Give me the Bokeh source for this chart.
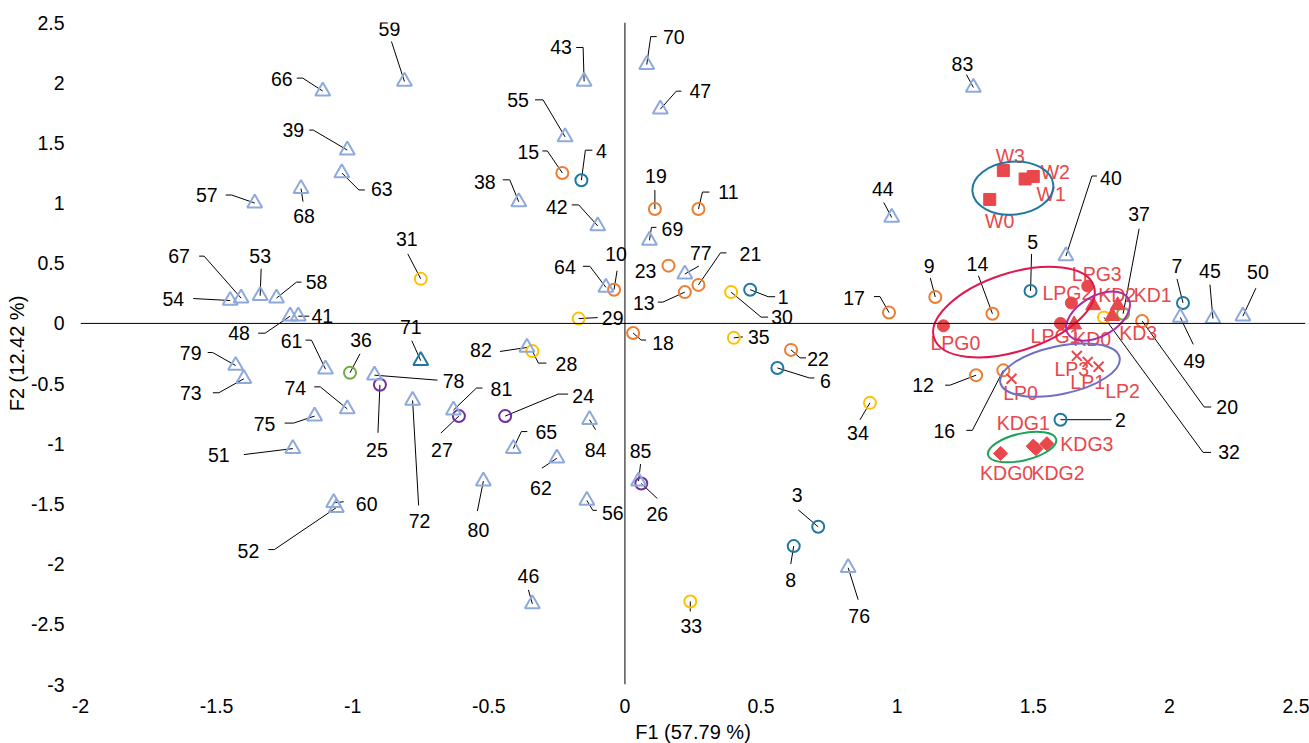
from bokeh.plotting import figure
from bokeh.models import Range1d, Span, FixedTicker, AllLabels, ColumnDataSource
from bokeh.embed import file_html
from bokeh.resources import INLINE
from bokeh.core.properties import value

# ---------------------------------------------------------------- data
# Compound scores on F1 / F2
compound_ids = [str(i) for i in range(1, 86)]
f1 = [0.46, 1.60, 0.71, -0.16, 1.49, 0.56, 2.05, 0.62,                      # 1-8
      1.14, -0.04, 0.27, 1.29, 0.22, 1.35, -0.23, 1.39, 0.97, 0.03, 0.11,   # 9-19
      1.90, 0.27, 0.61, 0.16,                                               # 20-23
      -0.44, -0.90, 0.06, -0.61,                                            # 24-27
      -0.34, -0.17, 0.39, -0.75, 1.76, 0.24, 0.90, 0.40,                    # 28-35
      -1.01, 1.83,                                                          # 36-37
      -0.39, -1.02, 1.62, -1.20, -0.10, -0.15, 0.98, 2.16, -0.34, 0.13,     # 38-47
      -1.23, 2.04, 2.27, -1.22, -1.06, -1.34, -1.45, -0.22, -0.14, -1.36,   # 48-57
      -1.28, -0.81, -1.07, -1.10, -0.25, -1.04, -0.07, -0.41, -1.11, -1.41, # 58-67
      -1.19, 0.09, 0.08, -0.75, -0.78, -1.40, -1.02, -1.14, 0.82, 0.22,     # 68-77
      -0.92, -1.43, -0.52, -0.63, -0.36, 1.28, -0.13, 0.05]                 # 78-85
f2 = [0.28, -0.80, -1.69, 1.19, 0.27, -0.37, 0.17, -1.85,
      0.22, 0.28, 0.95, -0.43, 0.26, 0.08, 1.25, -0.39, 0.09, -0.08, 0.95,
      0.02, 0.32, -0.22, 0.48,
      -0.77, -0.51, -1.33, -0.77,
      -0.23, 0.04, 0.26, 0.37, 0.05, -2.31, -0.66, -0.12,
      -0.41, 0.08,
      1.01, 1.44, 0.56, 0.06, 0.81, 2.01, 0.88, 0.04, -2.33, 1.78,
      0.06, 0.05, 0.06, -1.04, -1.53, 0.23, 0.19, 1.55, -1.47, 1.00,
      0.21, 2.01, -1.49, -0.38, -1.12, 1.25, 0.30, -1.04, 1.93, 0.21,
      1.12, 0.69, 2.15, -0.31, -0.64, -0.46, -0.71, -0.77, -2.03, 0.41,
      -0.43, -0.35, -1.31, -0.72, -0.20, 1.96, -0.80, -1.31]
compound_class = (["c1"] * 8 + ["c2"] * 15 + ["c3"] * 4 + ["c4"] * 8 + ["c5"] * 2
                  + ["c6"] * 33 + ["c7"] + ["c6"] * 14)

# Sample scores on F1 / F2
sample_names = ["W0", "W1", "W2", "W3",
                "LPG0", "LPG1", "LPG2", "LPG3",
                "KD0", "KD1", "KD2", "KD3",
                "LP0", "LP1", "LP2", "LP3",
                "KDG0", "KDG1", "KDG2", "KDG3"]
sample_f1 = [1.34, 1.47, 1.50, 1.39,
             1.17, 1.60, 1.64, 1.70,
             1.65, 1.81, 1.72, 1.79,
             1.42, 1.70, 1.74, 1.66,
             1.38, 1.50, 1.51, 1.55]
sample_f2 = [1.03, 1.20, 1.22, 1.27,
             -0.02, 0.00, 0.17, 0.31,
             -0.01, 0.15, 0.15, 0.06,
             -0.46, -0.32, -0.36, -0.27,
             -1.08, -1.02, -1.04, -1.00]
sample_group = ["W"] * 4 + ["LPG"] * 4 + ["KD"] * 4 + ["LP"] * 4 + ["KDG"] * 4

# Group ellipses: centre (F1, F2), extent along F1 / F2, tilt in degrees
ellipse_groups = ["W", "LPG", "KD", "LP", "KDG"]
ellipse_cx = [1.425, 1.429, 1.738, 1.598, 1.459]
ellipse_cy = [1.124, 0.094, 0.061, -0.388, -1.027]
ellipse_w = [0.298, 0.617, 0.257, 0.448, 0.257]
ellipse_h = [0.440, 0.648, 0.332, 0.399, 0.224]
ellipse_angle = [5, 18, 30, 12, 13]

x_ticks = [-2, -1.5, -1, -0.5, 0, 0.5, 1, 1.5, 2, 2.5]
x_tick_labels = ["-2", "-1.5", "-1", "-0.5", "0", "0.5", "1", "1.5", "2", "2.5"]
y_ticks = [-3, -2.5, -2, -1.5, -1, -0.5, 0, 0.5, 1, 1.5, 2, 2.5]
y_tick_labels = ["-3", "-2.5", "-2", "-1.5", "-1", "-0.5", "0", "0.5", "1", "1.5", "2", "2.5"]

# ---------------------------------------------------------------- layout
FRAME_W, FRAME_H = 1225, 662
X0, X1, Y0, Y1 = -2, 2.5, -3, 2.5
PX = FRAME_W / (X1 - X0)
PY = FRAME_H / (Y1 - Y0)

# label placement in screen pixels relative to the marker (y downwards):
# (label dx, label dy, leader end dx, leader end dy, stub end dx or None)
label_layout = {
    "1": (33, 7, 18, 7, 25), "2": (60, 0, 51, 0, None), "3": (-21, -32, -20, -17, None),
    "4": (20, -29, 4, -30, 11), "5": (2, -49, 1, -37, None), "6": (48, 13, 32, 10, 37),
    "7": (-6, -37, -6, -24, None), "8": (-3, 34, -3, 18, None), "9": (-6, -31, -5, -19, None),
    "10": (2, -36, 3, -19, None), "11": (30, -17, 4, -17, 11), "12": (-53, 10, -26, 10, -31),
    "13": (-41, 11, -22, 10, -27), "14": (-15, -50, -14, -38, None), "15": (-34, -21, -15, -22, -20),
    "16": (-59, 61, -31, 60, -37), "17": (-35, -15, -9, -16, -15), "18": (30, 10, 8, 7, 13),
    "19": (1, -33, 0, -19, None), "20": (85, 86, 62, 86, 69), "21": (52, -31, 22, -32, 28),
    "22": (27, 9, 9, 8, 15), "23": (-23, 5, None, None, None), "24": (78, -20, 53, -22, 63),
    "25": (-3, 65, -2, 48, None), "26": (16, 31, 16, 15, None), "27": (-17, 34, -18, 17, None),
    "28": (34, 13, 6, 12, 14), "29": (34, -1, 19, -1, None), "30": (51, 25, 30, 25, 37),
    "31": (-14, -40, -13, -25, None), "32": (125, 135, 99, 135, 107), "33": (1, 25, 0, 10, None),
    "34": (-12, 30, -10, 17, None), "35": (25, -1, 9, -1, None), "36": (11, -33, 10, -19, None),
    "37": (16, -100, 16, -85, None), "38": (-34, -20, -9, -22, -16), "39": (-54, -20, -34, -20, -38),
    "40": (45, -78, 26, -80, 31), "41": (24, 0, 11, 0, None), "42": (-41, -19, -19, -21, -26),
    "43": (-23, -34, -1, -34, -8), "44": (-9, -28, -8, -15, None), "45": (-3, -48, -3, -34, None),
    "46": (-4, -28, -4, -14, None), "47": (40, -18, 16, -18, 21), "48": (-51, 17, -25, 17, -32),
    "49": (14, 44, 13, 27, None), "50": (15, -44, 13, -28, None), "51": (-74, 6, -49, 6, None),
    "52": (-88, 43, -62, 42, -68), "53": (0, -40, 1, -27, None), "54": (-57, -2, -37, -2, None),
    "55": (-47, -37, -22, -37, -30), "56": (26, 13, 6, 10, 10), "57": (-48, -8, -23, -8, -29),
    "58": (40, -16, 20, -16, 25), "59": (-15, -52, -13, -40, None), "60": (33, 1, 10, -1, None),
    "61": (-34, -28, -14, -29, -20), "62": (-16, 30, -15, 10, None), "63": (40, 16, 17, 17, 23),
    "64": (-41, -20, -16, -21, -23), "65": (33, -17, 8, -17, 14), "66": (-41, -12, -20, -13, -26),
    "67": (-62, -42, -37, -42, -42), "68": (3, 27, 2, 13, None), "69": (23, -11, 2, -13, 7),
    "70": (27, -28, 4, -28, 10), "71": (-10, -34, -9, -20, None), "72": (7, 121, 6, 105, None),
    "73": (-53, 14, -25, 14, -31), "74": (-52, -21, -27, -22, -33), "75": (-50, 8, -21, 7, -30),
    "76": (11, 48, 10, 32, None), "77": (16, -21, 14, -8, None), "78": (79, 6, 63, 5, None),
    "79": (-45, -13, -23, -13, -28), "80": (-5, 49, -6, 30, None), "81": (48, -21, 23, -22, 29),
    "82": (-46, 3, -27, 4, None), "83": (-11, -23, -7, -13, None), "84": (6, 30, 6, 10, None),
    "85": (2, -30, 2, -17, None),
}
sample_label_offset = {
    "W0": (10, 22), "W1": (26, 15), "W2": (22, -5), "W3": (7, -15),
    "LPG0": (12, 17), "LPG1": (-5, 13), "LPG2": (-4, -10), "LPG3": (9, -12),
    "KD0": (18, 14), "KD1": (35, -10), "KD2": (24, -10), "KD3": (26, 17),
    "LP0": (9, 14), "LP1": (0, 20), "LP2": (24, 24), "LP3": (-5, 13),
    "KDG0": (6, 20), "KDG1": (-10, -23), "KDG2": (22, 24), "KDG3": (40, 0),
}

class_style = {
    "c1": dict(marker="circle", color="#1F78A0", size=12),
    "c2": dict(marker="circle", color="#ED7D31", size=12),
    "c3": dict(marker="circle", color="#7030A0", size=12),
    "c4": dict(marker="circle", color="#FFC000", size=12),
    "c5": dict(marker="circle", color="#70AD47", size=12),
    "c6": dict(marker="triangle", color="#8EA9DB", size=15),
    "c7": dict(marker="triangle", color="#1F78A0", size=15),
}
RED = "#E8474B"
sample_style = {
    "W": dict(marker="square", size=12, angle=0),
    "LPG": dict(marker="circle", size=12, angle=0),
    "KD": dict(marker="triangle", size=15, angle=0),
    "LP": dict(marker="x", size=14, angle=0),
    "KDG": dict(marker="square", size=10, angle=0.785398),
}
ellipse_color = {"W": "#1F78A0", "LPG": "#E0164E", "KD": "#AE2CA0",
                 "LP": "#6F6FC4", "KDG": "#1DA355"}

FONT = "Liberation Sans"
FS = "19.5px"
FS_TITLE = "20px"


def shift(x, y, dx, dy):
    return x + dx / PX, y - dy / PY


p = figure(frame_width=FRAME_W, frame_height=FRAME_H,
           x_range=Range1d(X0, X1), y_range=Range1d(Y0, Y1),
           output_backend="svg", toolbar_location=None,
           min_border_left=80, min_border_right=4, min_border_top=22, min_border_bottom=66,
           background_fill_color="white", border_fill_color="white")
p.xgrid.visible = False
p.ygrid.visible = False
p.outline_line_color = None

p.xaxis.axis_label = "F1 (57.79 %)"
p.yaxis.axis_label = "F2 (12.42 %)"
p.xaxis.ticker = FixedTicker(ticks=x_ticks)
p.yaxis.ticker = FixedTicker(ticks=y_ticks)
p.xaxis.major_label_overrides = {float(t): s for t, s in zip(x_ticks, x_tick_labels)}
p.yaxis.major_label_overrides = {float(t): s for t, s in zip(y_ticks, y_tick_labels)}
for ax in (p.xaxis[0], p.yaxis[0]):
    ax.axis_line_color = None
    ax.major_tick_line_color = None
    ax.minor_tick_line_color = None
    ax.major_tick_out = 0
    ax.major_tick_in = 0
    ax.minor_tick_out = 0
    ax.major_label_policy = AllLabels()
    ax.major_label_text_font = FONT
    ax.major_label_text_font_size = FS
    ax.major_label_text_color = "black"
    ax.axis_label_text_font = FONT
    ax.axis_label_text_font_size = FS_TITLE
    ax.axis_label_text_font_style = "normal"
    ax.axis_label_text_color = "black"
p.yaxis.major_label_standoff = 16
p.yaxis.axis_label_standoff = 0
p.xaxis.major_label_standoff = 14
p.xaxis.axis_label_standoff = 5

p.add_layout(Span(location=0, dimension="width", line_color="black", line_width=1))
p.add_layout(Span(location=0, dimension="height", line_color="black", line_width=1))

# leader lines
lx_all, ly_all, lt_all = [], [], []
xs, ys = [], []
for cid, x, y in zip(compound_ids, f1, f2):
    ldx, ldy, edx, edy, hdx = label_layout[cid]
    tx, ty = shift(x, y, ldx, ldy)
    lx_all.append(tx)
    ly_all.append(ty)
    lt_all.append(cid)
    if edx is None:
        continue
    ex, ey = shift(x, y, edx, edy)
    px_, py_ = [x, ex], [y, ey]
    if hdx is not None:
        hx, hy = shift(x, y, hdx, edy)
        px_.append(hx)
        py_.append(hy)
    xs.append(px_)
    ys.append(py_)
p.multi_line(xs=xs, ys=ys, line_color="black", line_width=1)

# compound markers
for cls, st in class_style.items():
    idx = [i for i, c in enumerate(compound_class) if c == cls]
    src = ColumnDataSource(dict(x=[f1[i] for i in idx], y=[f2[i] for i in idx]))
    p.scatter("x", "y", source=src, marker=st["marker"], size=st["size"],
              line_color=st["color"], line_width=2, fill_alpha=0)

# compound labels
p.text(x=lx_all, y=ly_all, text=lt_all, text_align="center", text_baseline="middle",
       text_font=value(FONT), text_font_size=FS, text_color="black")

# sample labels and markers
sx, sy = [], []
for n, x, y in zip(sample_names, sample_f1, sample_f2):
    dx, dy = sample_label_offset[n]
    tx, ty = shift(x, y, dx, dy)
    sx.append(tx)
    sy.append(ty)
p.text(x=sx, y=sy, text=sample_names, text_align="center", text_baseline="middle",
       text_font=value(FONT), text_font_size=FS, text_color=RED)

for g, st in sample_style.items():
    idx = [i for i, s in enumerate(sample_group) if s == g]
    xx = [sample_f1[i] for i in idx]
    yy = [sample_f2[i] for i in idx]
    if st["marker"] == "x":
        p.scatter(xx, yy, marker="x", size=st["size"], line_color=RED, line_width=2)
    else:
        p.scatter(xx, yy, marker=st["marker"], size=st["size"], angle=st["angle"],
                  fill_color=RED, line_color=RED, line_width=1)

# group ellipses
for g, cx, cy, w, h, a in zip(ellipse_groups, ellipse_cx, ellipse_cy, ellipse_w,
                              ellipse_h, ellipse_angle):
    p.ellipse(x=[cx], y=[cy], width=[w], height=[h], angle=[a], angle_units="deg",
              fill_alpha=0, line_color=ellipse_color[g], line_width=2)

open("out.html", "w").write(file_html(p, INLINE))
